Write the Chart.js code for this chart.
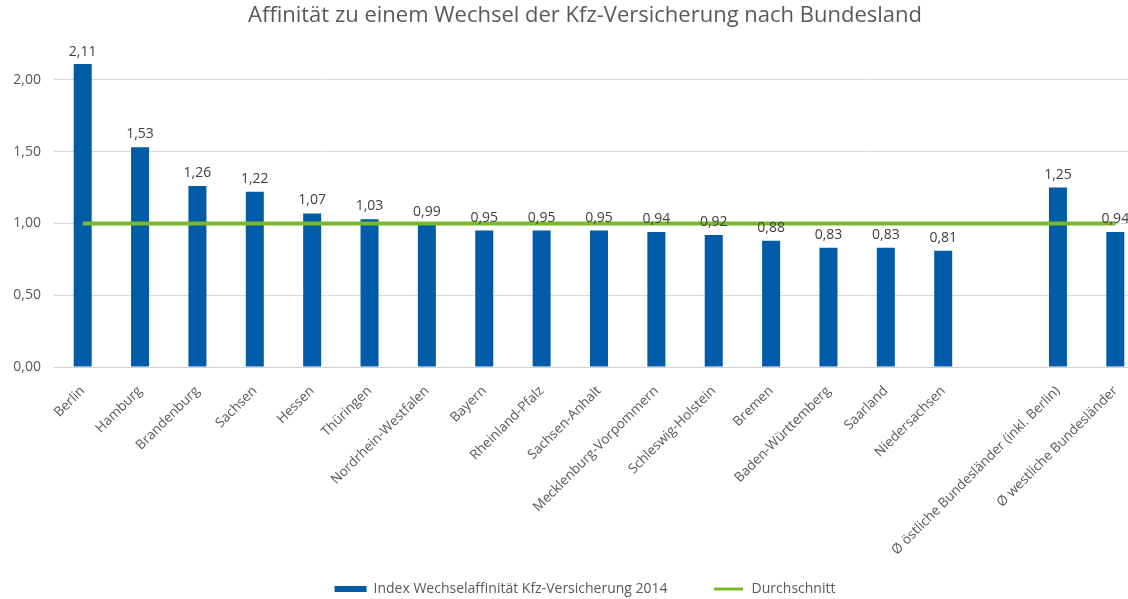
<!DOCTYPE html>
<html>
<head>
<meta charset="utf-8">
<script src="https://cdn.jsdelivr.net/npm/chart.js@4/dist/chart.umd.min.js"></script>
<style>
  html, body { margin: 0; padding: 0; background: #fff; overflow: hidden; width: 1128px; height: 599px; }
  #wrap { width: 1170px; height: 606px; }
</style>
</head>
<body>
<div id="wrap"><canvas id="chart" width="1170" height="606"></canvas></div>
<script>
// categories (empty slot between the states and the averages)
const categories = [
  "Berlin", "Hamburg", "Brandenburg", "Sachsen", "Hessen", "Thüringen",
  "Nordrhein-Westfalen", "Bayern", "Rheinland-Pfalz", "Sachsen-Anhalt",
  "Mecklenburg-Vorpommern", "Schleswig-Holstein", "Bremen", "Baden-Württemberg",
  "Saarland", "Niedersachsen", "",
  "Ø östliche Bundesländer (inkl. Berlin)", "Ø westliche Bundesländer"
];
const indexValues = [2.11, 1.53, 1.26, 1.22, 1.07, 1.03, 0.99, 0.95, 0.95, 0.95,
  0.94, 0.92, 0.88, 0.83, 0.83, 0.81, null, 1.25, 0.94];
const averageValues = [1, 1, 1, 1, 1, 1, 1, 1, 1, 1, 1, 1, 1, 1, 1, 1, 1, 1, 1];
const yTicks = [0, 0.5, 1, 1.5, 2];

const grey = "#595959";
const fmt = v => v.toFixed(2).replace(".", ",");

// draws the value above each bar (kept inside the plot area like Excel does)
const barLabels = {
  id: "barLabels",
  afterDatasetsDraw(chart) {
    const ctx = chart.ctx;
    const meta = chart.getDatasetMeta(0);
    ctx.save();
    ctx.font = "14px 'Open Sans'";
    ctx.fillStyle = "#404040";
    ctx.textAlign = "center";
    ctx.textBaseline = "middle";
    meta.data.forEach((bar, i) => {
      const v = indexValues[i];
      if (v == null) return;
      const y = Math.max(bar.y - 13, chart.chartArea.top + 8);
      ctx.fillText(fmt(v), bar.x, y);
    });
    ctx.restore();
  }
};

// let the long rotated tick labels run into the legend band without being clipped
const unclipX = {
  id: "unclipX",
  afterLayout(chart) {
    chart.scales.x.bottom = chart.height;
  }
};

const ctx = document.getElementById("chart").getContext("2d");
const chart = new Chart(ctx, {
  data: {
    labels: categories,
    datasets: [
      {
        type: "bar",
        label: "Index Wechselaffinität Kfz-Versicherung 2014",
        data: indexValues,
        backgroundColor: "#005CA9",
        barPercentage: 0.314,
        categoryPercentage: 1,
        order: 2
      },
      {
        type: "line",
        label: "Durchschnitt",
        data: averageValues,
        borderColor: "#78B82A",
        backgroundColor: "#78B82A",
        borderWidth: 4,
        pointRadius: 0,
        fill: false,
        order: 1
      }
    ]
  },
  options: {
    responsive: false,
    animation: false,
    devicePixelRatio: 1,
    plugins: {
      title: {
        display: true,
        text: "Affinität zu einem Wechsel der Kfz-Versicherung nach Bundesland",
        color: grey,
        font: { family: "'Open Sans'", size: 22, weight: "normal", lineHeight: 1.2 },
        padding: { top: 3, bottom: 14.6 }
      },
      legend: {
        position: "bottom",
        labels: {
          color: grey,
          font: { family: "'Open Sans'", size: 14 },
          boxWidth: 32,
          boxHeight: 6,
          padding: 45,
          generateLabels(chart) {
            return chart.data.datasets.map((ds, i) => ({
              text: ds.label,
              fillStyle: ds.backgroundColor,
              strokeStyle: "#ffffff",
              lineWidth: ds.type === "line" ? 3 : 0,
              fontColor: grey,
              hidden: false,
              datasetIndex: i
            }));
          }
        }
      },
      tooltip: { enabled: false }
    },
    scales: {
      x: {
        offset: true,
        grid: { display: false },
        border: { display: true, color: "#d0d0d0" },
        ticks: {
          color: grey,
          font: { family: "'Open Sans'", size: 13.5 },
          minRotation: 45,
          maxRotation: 45,
          autoSkip: false,
          padding: 8
        },
        afterFit(scale) { scale.height = 170; }
      },
      y: {
        min: 0,
        max: 2.25,
        grid: { color: "#d9d9d9", drawTicks: false },
        border: { display: false },
        ticks: {
          stepSize: 0.5,
          color: grey,
          font: { family: "'Open Sans'", size: 14 },
          padding: 13,
          callback: v => fmt(v)
        },
        afterBuildTicks(scale) {
          scale.ticks = yTicks.map(v => ({ value: v }));
        },
        afterFit(scale) { scale.width = 54; }
      },
      // empty right-hand margin, keeps title and legend centred on the full width
      yRight: {
        position: "right",
        display: true,
        grid: { display: false },
        border: { display: false },
        ticks: { display: false },
        afterFit(scale) { scale.width = 26; }
      }
    }
  },
  plugins: [barLabels, unclipX]
});
</script>
</body>
</html>
